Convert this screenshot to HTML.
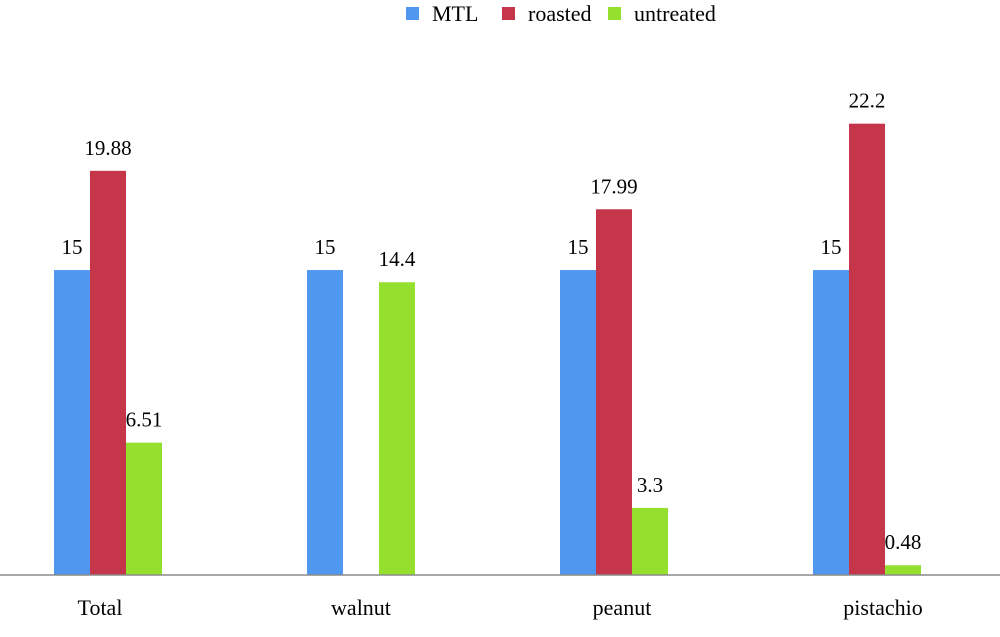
<!DOCTYPE html>
<html><head><meta charset="utf-8"><style>
body{margin:0;background:#fff;}
svg{display:block;font-family:"Liberation Serif",serif;}
</style></head><body>
<svg id="chart" width="1000" height="637" viewBox="0 0 1000 637">
<g id="legend"></g>
<g id="bars"></g>
<line x1="0" y1="575" x2="1000" y2="575" stroke="#8a8a8a" stroke-width="1.5"/>
<g id="xlabels"></g>
</svg>
<script>
const categories = ["Total","walnut","peanut","pistachio"];
const seriesNames = ["MTL","roasted","untreated"];
const mtl = [15,15,15,15];
const roasted = [19.88,null,17.99,22.2];
const untreated = [6.51,14.4,3.3,0.48];
const colors = ["#4f97ef","#c6364b","#95df2f"];
const series=[mtl,roasted,untreated];
const NS="http://www.w3.org/2000/svg";
const baseY=575, pxPerUnit=20.33, groupStart=54, groupStep=253, barW=36;
function y(v){return baseY-v*pxPerUnit;}
function gx(i){return groupStart+i*groupStep;}
const bars=document.getElementById('bars');
series.forEach((s,si)=>{
  s.forEach((v,ci)=>{
    if(v===null) return;
    const r=document.createElementNS(NS,'rect');
    
    
    const x=gx(ci)+si*barW;
    r.setAttribute('x',x);r.setAttribute('y',y(v));
    r.setAttribute('width',barW);r.setAttribute('height',baseY-y(v));
    r.setAttribute('fill',colors[si]);
    bars.appendChild(r);
    const t=document.createElementNS(NS,'text');
    
    
    t.setAttribute('x',x+barW/2);t.setAttribute('y',y(v)-16);
    t.setAttribute('text-anchor','middle');t.setAttribute('font-size','21');
    t.textContent=String(v);
    bars.appendChild(t);
  });
});
const xl=document.getElementById('xlabels');
categories.forEach((c,ci)=>{
  const t=document.createElementNS(NS,'text');
  
  
  t.setAttribute('x',gx(ci)+54+(ci*8-8));t.setAttribute('y',615);
  t.setAttribute('text-anchor','middle');t.setAttribute('font-size','22');
  t.textContent=c;xl.appendChild(t);
});
const lg=document.getElementById('legend');
const lx=[406,502,608];
seriesNames.forEach((n,i)=>{
  const r=document.createElementNS(NS,'rect');
  
  
  r.setAttribute('x',lx[i]);r.setAttribute('y',7);r.setAttribute('width',13);r.setAttribute('height',13);
  r.setAttribute('fill',colors[i]);lg.appendChild(r);
  const t=document.createElementNS(NS,'text');
  
  
  t.setAttribute('x',lx[i]+26);t.setAttribute('y',21);t.setAttribute('font-size','22');
  t.textContent=n;lg.appendChild(t);
});
</script>
</body></html>
